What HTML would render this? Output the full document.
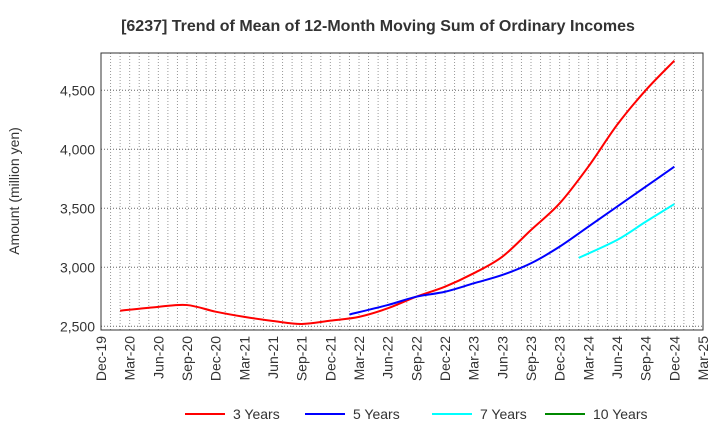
<!DOCTYPE html>
<html><head><meta charset="utf-8"><style>
body{margin:0;background:#fff;font-family:"Liberation Sans",sans-serif}
</style></head><body>
<svg id="chart" width="720" height="440" xmlns="http://www.w3.org/2000/svg">
<text x="378" y="31" text-anchor="middle" font-size="16" font-weight="bold" fill="#333">[6237]  Trend of Mean of 12-Month Moving Sum of Ordinary Incomes</text>
<text transform="translate(19,191) rotate(-90)" text-anchor="middle" font-size="14" fill="#333">Amount (million yen)</text>
<g id="grid"></g><g id="series"></g><g id="axes"></g><g id="legend"></g>
</svg>
<script>
const xLabels=["Dec-19","Mar-20","Jun-20","Sep-20","Dec-20","Mar-21","Jun-21","Sep-21","Dec-21","Mar-22","Jun-22","Sep-22","Dec-22","Mar-23","Jun-23","Sep-23","Dec-23","Mar-24","Jun-24","Sep-24","Dec-24","Mar-25"];
const yTicks=[2500,3000,3500,4000,4500];
const s3=[2632,2665,2680,2624,2580,2545,2520,2548,2580,2652,2751,2836,2949,3090,3316,3542,3853,4206,4500,4751];
const s3Start=1;
const s5=[2600,2680,2751,2793,2864,2935,3034,3175,3344,3514,3683,3853];
const s5Start=9;
const s7=[3080,3231,3386,3536];
const s7Start=17;
const s10=[];
const s10Start=17;
const L=101,R=703,T=53,B=330;
const X=q=>L+q*(R-L)/21;
const Y=v=>326.3-(v-2500)*0.118;
const NS="http://www.w3.org/2000/svg";
function mk(tag,attrs,parent){const e=document.createElementNS(NS,tag);for(const k in attrs)e.setAttribute(k,attrs[k]);parent.appendChild(e);return e;}
const grid=document.getElementById('grid'),axes=document.getElementById('axes'),ser=document.getElementById('series'),leg=document.getElementById('legend');
for(let m=1;m<63;m++){const x=L+m*(R-L)/63;
const g=mk('line',{x1:x,x2:x,y1:T,y2:B,stroke:'#999','stroke-dasharray':'1,2','stroke-width':1},grid);

}
yTicks.forEach(v=>{const y=Y(v);
const g=mk('line',{x1:L,x2:R,y1:y,y2:y,stroke:'#666','stroke-dasharray':'1,2','stroke-width':1},grid);


const t=mk('text',{x:L-6,y:y+5,'text-anchor':'end','font-size':14,fill:'#333'},axes);t.textContent=v.toLocaleString('en-US');

});
const fr=mk('rect',{x:L,y:T,width:R-L,height:B-T,fill:'none',stroke:'#333','stroke-width':1},axes);


xLabels.forEach((lb,i)=>{const x=X(i);
const t=mk('text',{transform:`translate(${x+5},${B+6}) rotate(-90)`,'text-anchor':'end','font-size':14,fill:'#333'},axes);t.textContent=lb;

});
function path(vals,start){const p=vals.map((v,i)=>[X(i===0?start-1/3:start+i),Y(v)]);if(!p.length)return '';
let d=`M${p[0][0]},${p[0][1]}`;
for(let i=0;i<p.length-1;i++){const p0=p[i-1]||p[i],p1=p[i],p2=p[i+1],p3=p[i+2]||p2;
d+=` C${p1[0]+(p2[0]-p0[0])/6},${p1[1]+(p2[1]-p0[1])/6} ${p2[0]-(p3[0]-p1[0])/6},${p2[1]-(p3[1]-p1[1])/6} ${p2[0]},${p2[1]}`;}
return d;}
[[s3,s3Start,'#f00','series-3-years'],[s5,s5Start,'#00f','series-5-years'],[s7,s7Start,'#0ff','series-7-years'],[s10,s10Start,'#080','series-10-years']].forEach(([v,s,c,n])=>{
if(!v.length)return;
const e=mk('path',{d:path(v,s),fill:'none',stroke:c,'stroke-width':2},ser);

});
[['3 Years','#f00',185],['5 Years','#00f',305],['7 Years','#0ff',432],['10 Years','#080',545]].forEach(([lb,c,x])=>{
const l=mk('line',{x1:x,x2:x+40,y1:414,y2:414,stroke:c,'stroke-width':2},leg);


const t=mk('text',{x:x+48,y:419,'font-size':14,fill:'#333'},leg);t.textContent=lb;

});
</script>
</body></html>
